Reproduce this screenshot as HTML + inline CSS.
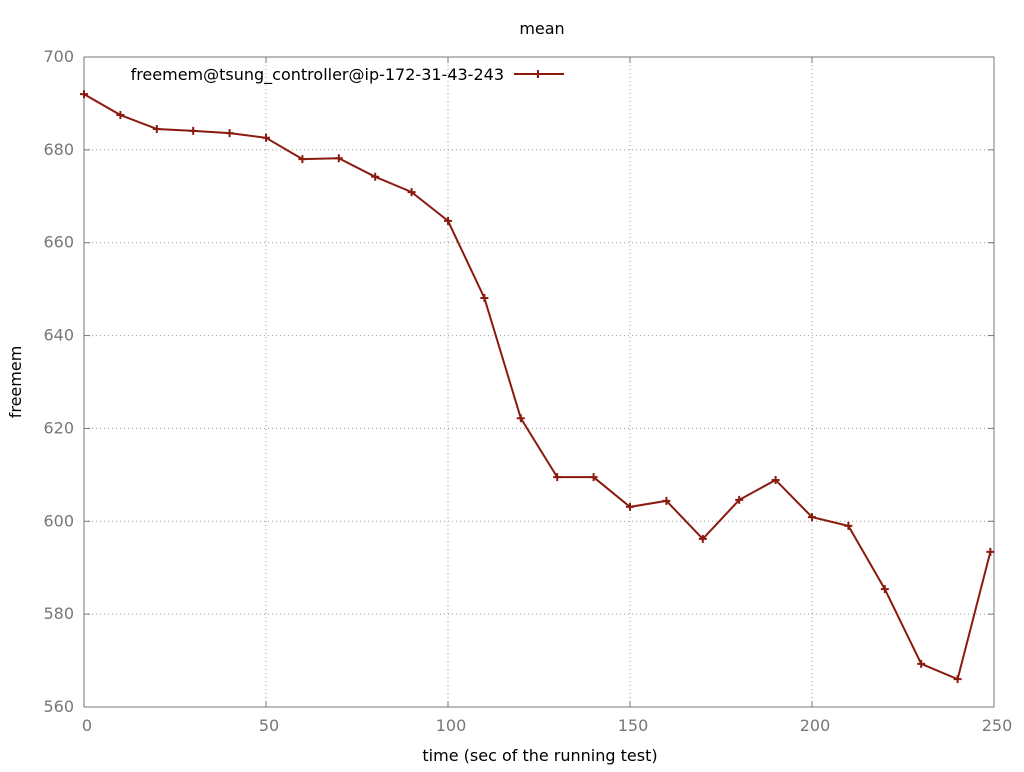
<!DOCTYPE html>
<html><head><meta charset="utf-8"><style>
body{margin:0;background:#fff;width:1024px;height:768px;overflow:hidden;font-family:"DejaVu Sans","Liberation Sans",sans-serif}
svg text{font-family:"DejaVu Sans","Liberation Sans",sans-serif}
</style></head><body>
<svg id="chart" width="1024" height="768">
<text x="542" y="34" text-anchor="middle" font-size="16" fill="#000">mean</text>
<text x="540" y="761" text-anchor="middle" font-size="16" fill="#000">time (sec of the running test)</text>
<text transform="translate(21,382) rotate(-90)" text-anchor="middle" font-size="16" fill="#000">freemem</text>
<g id="grid"></g><g id="axes"></g><g id="series"></g>
<g>
<text x="504" y="80" text-anchor="end" font-size="16" fill="#000">freemem@tsung_controller@ip-172-31-43-243</text>
<line x1="514" y1="74" x2="564" y2="74" stroke="#8b1a0e" stroke-width="2"/>
<path d="M534 74h8M538 70v8" stroke="#8b1a0e" stroke-width="2"/>
</g>
</svg>
<script>
const xValues=[0,10,20,30,40,50,60,70,80,90,100,110,120,130,140,150,160,170,180,190,200,210,220,230,240,249];
const yValues=[692.0,687.5,684.5,684.1,683.6,682.6,678.0,678.2,674.2,670.9,664.7,648.1,622.2,609.5,609.5,603.1,604.4,596.2,604.6,608.9,600.9,599.0,585.4,569.3,566.0,593.4];
const xTicks=[0,50,100,150,200,250];
const yTicks=[560,580,600,620,640,660,680,700];
const L=84,R=994,T=57,B=707;
const xs=v=>L+(v-0)/250*(R-L);
const ys=v=>B-(v-560)/140*(B-T);
const NS="http://www.w3.org/2000/svg";
function mk(tag,attrs,parent){const e=document.createElementNS(NS,tag);for(const k in attrs)e.setAttribute(k,attrs[k]);parent.appendChild(e);return e;}
const grid=document.getElementById('grid'),axes=document.getElementById('axes'),series=document.getElementById('series');
xTicks.forEach(t=>{const x=xs(t);
 if(t>0&&t<250){const g=mk('line',{x1:x,y1:T,x2:x,y2:B,stroke:'#999','stroke-dasharray':'1,3'},grid);
 
 }
 const l=mk('text',{x:x+3,y:731,'text-anchor':'middle','font-size':16,fill:'#777'},axes);l.textContent=t;
 
 
 mk('line',{x1:x,y1:B,x2:x,y2:B-6,stroke:'#777'},axes);mk('line',{x1:x,y1:T,x2:x,y2:T+6,stroke:'#777'},axes);
});
yTicks.forEach(t=>{const y=ys(t);
 if(t>560&&t<700){const g=mk('line',{x1:L,y1:y,x2:R,y2:y,stroke:'#999','stroke-dasharray':'1,3'},grid);
 
 }
 const l=mk('text',{x:74,y:y+5,'text-anchor':'end','font-size':16,fill:'#777'},axes);l.textContent=t;
 
 
 mk('line',{x1:L,y1:y,x2:L+6,y2:y,stroke:'#777'},axes);mk('line',{x1:R,y1:y,x2:R-6,y2:y,stroke:'#777'},axes);
});
const frame=mk('rect',{x:L,y:T,width:R-L,height:B-T,fill:'none',stroke:'#777'},axes);


const pts=xValues.map((x,i)=>xs(x)+','+ys(yValues[i])).join(' ');
const line=mk('polyline',{points:pts,fill:'none',stroke:'#8b1a0e','stroke-width':2},series);


xValues.forEach((x,i)=>{const px=xs(x),py=ys(yValues[i]);
 const m=mk('path',{d:`M${px-4} ${py}h8M${px} ${py-4}v8`,stroke:'#8b1a0e','stroke-width':2},series);
 
 
});
</script>
</body></html>
